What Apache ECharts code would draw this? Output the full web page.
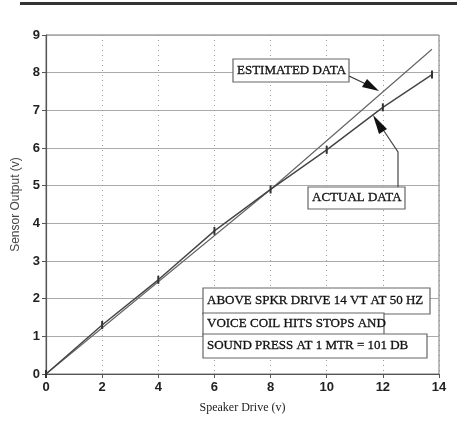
<!DOCTYPE html>
<html><head><meta charset="utf-8">
<script src="https://cdn.jsdelivr.net/npm/echarts@6/dist/echarts.min.js"></script>
<style>html,body{margin:0;padding:0;background:#fff}#c{width:457px;height:421px}</style>
</head><body><div id="c"></div>
<script>
const actualX = [0, 2, 4, 6, 8, 10, 12, 13.75];
const actualY = [0, 1.3, 2.5, 3.8, 4.9, 5.95, 7.08, 7.95];
const estimatedX = [0, 8, 13.75];
const estimatedY = [0, 4.9, 8.62];
const xTicks = [0, 2, 4, 6, 8, 10, 12, 14];
const yTicks = [0, 1, 2, 3, 4, 5, 6, 7, 8, 9];
const noteLines = ['ABOVE SPKR DRIVE 14 VT AT 50 HZ', 'VOICE COIL HITS STOPS AND', 'SOUND PRESS AT 1 MTR = 101 DB'];
const labelEstimated = 'ESTIMATED DATA';
const labelActual = 'ACTUAL DATA';

const chart = echarts.init(document.getElementById('c'));
const serif = '"Liberation Serif", "DejaVu Serif", serif';
const txtStyle = {fontFamily: serif, fontSize: 13, fill: '#111', fontWeight: 'normal', stroke: '#111', lineWidth: 0.3};

function box(x, y, w, h, text) {
  return {type: 'group', children: [
    {type: 'rect', shape: {x: x, y: y, width: w, height: h}, style: {fill: '#fff', stroke: '#666', lineWidth: 1.2}, z: 10},
    {type: 'text', x: x + 4, y: y + h / 2, style: Object.assign({text: text, verticalAlign: 'middle'}, txtStyle), z: 11}
  ]};
}

chart.setOption({
  animation: false,
  grid: {left: 46, right: 18, top: 35, bottom: 47, show: true, borderColor: '#777', borderWidth: 1},
  xAxis: {
    type: 'value', min: 0, max: 14, interval: 2,
    name: 'Speaker Drive (v)', nameLocation: 'middle', nameGap: 28,
    nameTextStyle: {fontFamily: serif, fontSize: 12, color: '#222'},
    axisLine: {lineStyle: {color: '#555', width: 1.2}},
    axisTick: {show: true, inside: false, length: 4, lineStyle: {color: '#555'}},
    axisLabel: {fontFamily: 'Arial, "Liberation Sans", sans-serif', fontSize: 13, color: '#222', fontWeight: 'bold', margin: 7,
      formatter: v => xTicks.includes(v) ? String(v) : ''},
    splitLine: {show: true, lineStyle: {color: '#999', type: [1, 4], width: 1}}
  },
  yAxis: {
    type: 'value', min: 0, max: 9, interval: 1,
    name: 'Sensor Output (v)', nameLocation: 'middle', nameGap: 18, nameRotate: 90,
    nameTextStyle: {fontFamily: '"Liberation Sans", Arial, sans-serif', fontSize: 12, color: '#444'},
    axisLine: {show: true, lineStyle: {color: '#555', width: 1.2}},
    axisTick: {show: true, inside: false, length: 4, lineStyle: {color: '#555'}},
    axisLabel: {fontFamily: 'Arial, "Liberation Sans", sans-serif', fontSize: 13, color: '#222', fontWeight: 'bold', margin: 6,
      formatter: v => yTicks.includes(v) ? String(v) : ''},
    splitLine: {show: true, lineStyle: {color: '#aaa', width: 1.2}}
  },
  series: [
    {type: 'line', name: 'Estimated', data: estimatedX.map((x, i) => [x, estimatedY[i]]),
      showSymbol: false, lineStyle: {color: '#666', width: 1.2}, z: 3},
    {type: 'line', name: 'Actual', data: actualX.map((x, i) => [x, actualY[i]]),
      symbol: 'rect', symbolSize: [2, 8], itemStyle: {color: '#333'},
      lineStyle: {color: '#444', width: 1.4}, z: 4}
  ],
  graphic: [
    {type: 'line', shape: {x1: 20, y1: 3.5, x2: 457, y2: 3.5}, style: {stroke: '#333', lineWidth: 3}},
    box(233, 59, 116, 23, labelEstimated),
    {type: 'line', shape: {x1: 349, y1: 76, x2: 370, y2: 86}, style: {stroke: '#333', lineWidth: 1.2}, z: 10},
    {type: 'polygon', shape: {points: [[379, 91], [362, 87], [367, 79]]}, style: {fill: '#111'}, z: 10},
    box(308, 187, 97, 22, labelActual),
    {type: 'polyline', shape: {points: [[398, 187], [398, 152], [384, 131]]}, style: {stroke: '#444', lineWidth: 1.2, fill: null}, z: 10},
    {type: 'polygon', shape: {points: [[373, 115], [387, 129], [379, 134]]}, style: {fill: '#111'}, z: 10},
    box(203, 288, 227, 26, noteLines[0]),
    box(203, 313, 181, 22, noteLines[1]),
    box(203, 334, 224, 24, noteLines[2])
  ]
});
</script></body></html>
